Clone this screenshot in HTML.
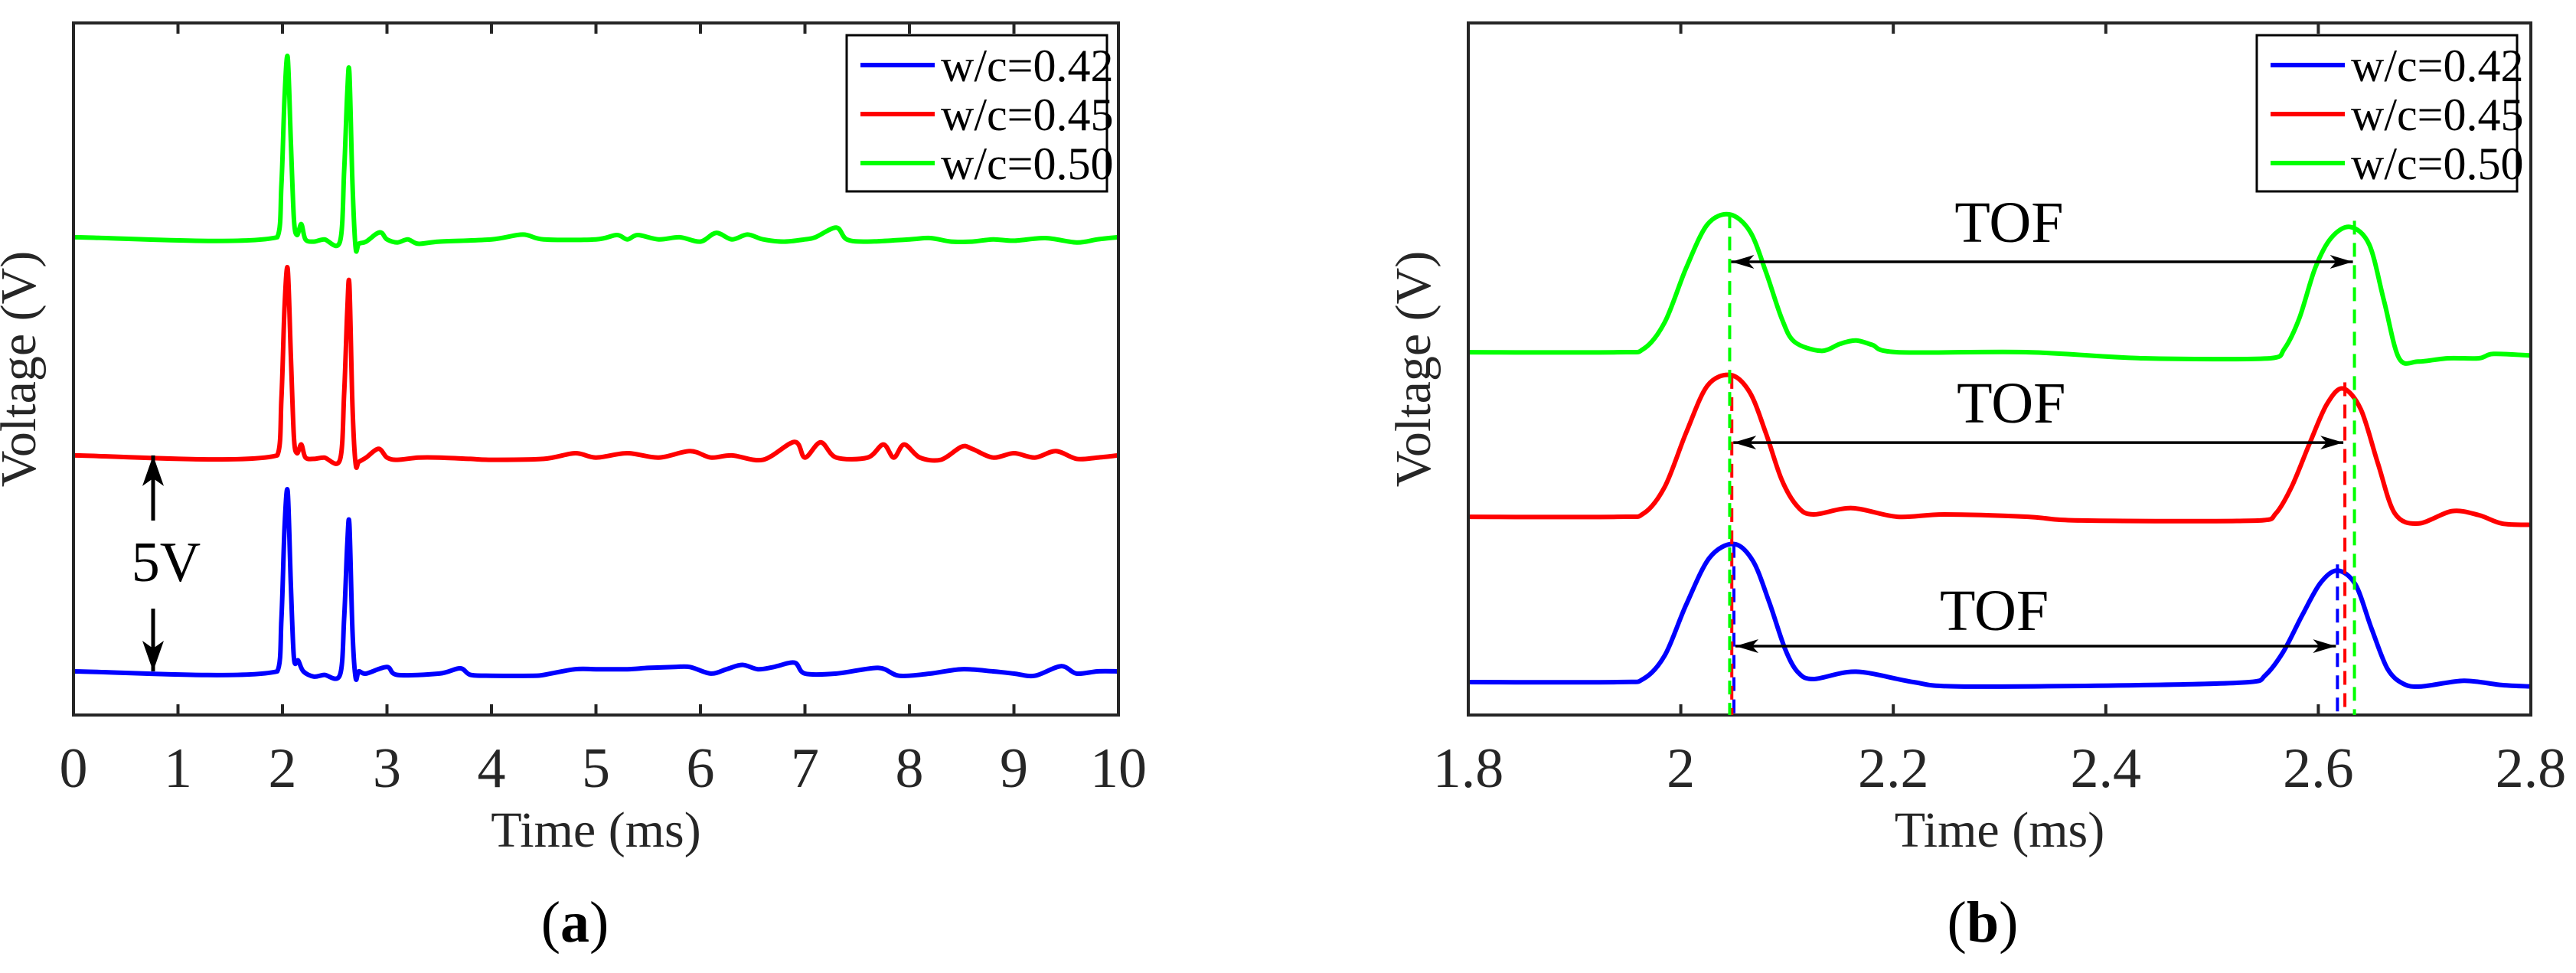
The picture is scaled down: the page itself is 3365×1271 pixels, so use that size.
<!DOCTYPE html>
<html><head><meta charset="utf-8"><style>
html,body{margin:0;padding:0;background:#fff;}
svg{display:block;font-family:"Liberation Serif",serif;}
</style></head><body>
<svg id="fig" width="3365" height="1271" viewBox="0 0 3365 1271" xmlns="http://www.w3.org/2000/svg">
<defs>
<marker id="ah" viewBox="0 0 40 40" refX="40" refY="20" markerWidth="40" markerHeight="40" orient="auto-start-reverse" markerUnits="userSpaceOnUse">
<path d="M0,6 L40,20 L0,34 L10,20 Z" fill="#000"/>
</marker>
<marker id="ahs" viewBox="0 0 30 30" refX="30" refY="15" markerWidth="30" markerHeight="30" orient="auto-start-reverse" markerUnits="userSpaceOnUse">
<path d="M0,6 L30,15 L0,24 L8,15 Z" fill="#000"/>
</marker>
</defs>
</svg>
<script>
// ---------- Panel (a) data: time (ms) and voltage relative to each baseline (V) ----------
const aSeriesNames = ["w/c=0.42","w/c=0.45","w/c=0.50"];
const aOffsets = [1.0, 5.95, 10.95];
const aGreenT = [0,1.95,1.99,2.02,2.05,2.08,2.11,2.14,2.18,2.22,2.3,2.4,2.55,2.59,2.62,2.64,2.67,2.7,2.73,2.8,2.9,2.95,3.0,3.1,3.2,3.3,3.5,4.0,4.3,4.5,5.0,5.2,5.3,5.4,5.6,5.8,6.0,6.15,6.3,6.45,6.6,6.8,7.0,7.1,7.3,7.4,7.6,8.0,8.2,8.4,8.6,8.8,9.0,9.3,9.6,9.8,10];
const aGreenV = [0,0,1.2,3.2,4.13,2.2,0.4,0.05,0.3,-0.05,-0.1,-0.05,-0.1,1.5,3.3,3.77,1.2,-0.25,-0.15,-0.1,0.08,0.1,-0.05,-0.12,-0.05,-0.15,-0.1,-0.05,0.06,-0.05,-0.05,0.05,-0.05,0.05,-0.05,0.0,-0.1,0.1,-0.05,0.06,-0.05,-0.1,-0.05,0.0,0.22,-0.05,-0.1,-0.05,-0.02,-0.1,-0.1,-0.05,-0.08,-0.02,-0.12,-0.05,0.0];
const aRedT = [0,1.95,1.99,2.02,2.05,2.08,2.11,2.14,2.18,2.22,2.3,2.4,2.55,2.59,2.62,2.64,2.67,2.7,2.73,2.8,2.92,3.0,3.1,3.3,3.5,3.8,4.0,4.5,4.8,5.0,5.3,5.6,5.9,6.1,6.3,6.6,6.9,7.0,7.15,7.3,7.6,7.75,7.85,7.95,8.1,8.3,8.5,8.6,8.8,9.0,9.2,9.4,9.6,9.8,10];
const aRedV = [0,0,1.3,3.4,4.28,2.3,0.4,0.05,0.25,-0.05,-0.08,-0.05,-0.1,1.4,3.3,3.91,1.1,-0.2,-0.15,-0.05,0.15,-0.05,-0.1,-0.05,-0.05,-0.08,-0.1,-0.08,0.05,-0.05,0.05,-0.05,0.1,-0.05,0.0,-0.1,0.31,-0.05,0.3,-0.05,-0.05,0.25,-0.05,0.25,-0.05,-0.1,0.2,0.15,-0.05,0.05,-0.05,0.1,-0.08,-0.05,0.0];
const aBlueT = [0,1.95,1.99,2.02,2.05,2.08,2.11,2.15,2.2,2.3,2.4,2.55,2.59,2.62,2.64,2.67,2.7,2.73,2.8,3.0,3.1,3.5,3.7,3.8,4.0,4.4,4.5,4.8,5.0,5.3,5.5,5.75,5.9,6.1,6.25,6.4,6.55,6.7,6.9,7.0,7.3,7.7,7.9,8.2,8.5,8.8,9.0,9.2,9.45,9.6,9.8,10];
const aBlueV = [0,0,1.2,3.3,4.13,2.0,0.3,0.25,0.0,-0.12,-0.08,-0.08,1.2,2.9,3.37,0.9,-0.15,0.0,-0.05,0.1,-0.08,-0.05,0.07,-0.08,-0.1,-0.1,-0.08,0.05,0.05,0.05,0.08,0.1,0.1,-0.05,0.05,0.15,0.05,0.1,0.2,-0.05,-0.05,0.08,-0.1,-0.05,0.05,0.0,-0.05,-0.1,0.12,-0.05,0.0,0.0];
const aTicks = [0,1,2,3,4,5,6,7,8,9,10];

// ---------- Panel (b) data ----------
const bOffsets = [0.98, 5.9, 10.8];
const bGreenT = [1.8,1.94,1.965,1.985,2.005,2.025,2.046,2.065,2.08,2.095,2.107,2.132,2.15,2.165,2.18,2.204,2.327,2.435,2.555,2.568,2.582,2.597,2.612,2.63,2.648,2.662,2.676,2.694,2.722,2.751,2.765,2.8];
const bGreenV = [0,0,0.1,0.9,2.5,3.8,4.1,3.6,2.4,1.0,0.31,0.04,0.25,0.35,0.22,0.0,0.0,-0.18,-0.18,0.1,1.0,2.5,3.4,3.73,3.2,1.5,-0.18,-0.28,-0.18,-0.18,-0.05,-0.1];
const bRedT = [1.8,1.94,1.965,1.985,2.005,2.025,2.047,2.065,2.08,2.095,2.11,2.125,2.161,2.204,2.248,2.327,2.377,2.545,2.56,2.575,2.592,2.608,2.623,2.64,2.656,2.672,2.694,2.726,2.751,2.773,2.8];
const bRedV = [0,0,0.1,0.9,2.5,3.9,4.22,3.7,2.5,1.1,0.3,0.07,0.26,0.0,0.07,0.0,-0.11,-0.11,0.1,0.9,2.2,3.35,3.82,3.2,1.6,0.1,-0.2,0.17,0.05,-0.2,-0.24];
const bBlueT = [1.8,1.94,1.965,1.985,2.005,2.027,2.05,2.068,2.083,2.098,2.11,2.125,2.165,2.219,2.262,2.435,2.535,2.55,2.567,2.585,2.602,2.618,2.635,2.65,2.665,2.68,2.697,2.737,2.773,2.8];
const bBlueV = [0,0,0.1,0.8,2.3,3.7,4.11,3.6,2.4,1.0,0.3,0.09,0.31,0.0,-0.13,-0.09,0.0,0.2,0.9,2.0,2.95,3.32,2.9,1.6,0.4,-0.05,-0.13,0.04,-0.09,-0.13];
const bTicks = [1.8,2.0,2.2,2.4,2.6,2.8];
const bTickLabels = ["1.8","2","2.2","2.4","2.6","2.8"];
const bPeak1 = [2.05, 2.048, 2.046];
const bPeak2 = [2.618, 2.625, 2.634];
const bArrowV = [2.05, 8.11, 13.49];
const bTofV = [2.53, 8.70, 14.08];
const bTofT = [2.295, 2.311, 2.309];
const colors = ["#0000ff","#ff0000","#00ff00"];

const svg = document.getElementById('fig');
const NS = "http://www.w3.org/2000/svg";
function mk(tag, attrs, parent){
  const e = document.createElementNS(NS, tag);
  for (const k in attrs) e.setAttribute(k, attrs[k]);
  (parent||svg).appendChild(e);
  return e;
}
function smoothPath(pts){
  let d = "M"+pts[0][0].toFixed(1)+","+pts[0][1].toFixed(1);
  for (let i=0;i<pts.length-1;i++){
    const p0=pts[Math.max(0,i-1)], p1=pts[i], p2=pts[i+1], p3=pts[Math.min(pts.length-1,i+2)];
    const t=0.16;
    let c1x=p1[0]+(p2[0]-p0[0])*t, c1y=p1[1]+(p2[1]-p0[1])*t;
    let c2x=p2[0]-(p3[0]-p1[0])*t, c2y=p2[1]-(p3[1]-p1[1])*t;
    c1x=Math.min(Math.max(c1x,p1[0]),p2[0]); c2x=Math.min(Math.max(c2x,p1[0]),p2[0]);
    d+=" C"+c1x.toFixed(1)+","+c1y.toFixed(1)+" "+c2x.toFixed(1)+","+c2y.toFixed(1)+" "+p2[0].toFixed(1)+","+p2[1].toFixed(1);
  }
  return d;
}

function panel(cfg){
  const g = mk('g', {});
  
  
  const X = v => cfg.x0 + (v-cfg.xmin)/(cfg.xmax-cfg.xmin)*(cfg.x1-cfg.x0);
  const Y = v => cfg.y1 - (v-cfg.ymin)/(cfg.ymax-cfg.ymin)*(cfg.y1-cfg.y0);
  const clip = mk('clipPath', {id: cfg.name+'-clip'}, g);
  mk('rect', {x:cfg.x0, y:cfg.y0, width:cfg.x1-cfg.x0, height:cfg.y1-cfg.y0}, clip);
  const plot = mk('g', {'clip-path':'url(#'+cfg.name+'-clip)'}, g);
  
  
  for (let s=2; s>=0; s--){
    const T=cfg.ts[s], V=cfg.vs[s];
    const pts = T.map((t,i)=>[X(t), Y(V[i]+cfg.offsets[s])]);
    const p = mk('path', {d: smoothPath(pts), fill:'none', stroke:colors[s], 'stroke-width':6, 'stroke-linejoin':'round'}, plot);
    
    
  }
  const box = mk('rect', {x:cfg.x0, y:cfg.y0, width:cfg.x1-cfg.x0, height:cfg.y1-cfg.y0, fill:'none', stroke:'#262626', 'stroke-width':4}, g);
  
  
  cfg.ticks.forEach((t,i)=>{
    const x = X(t);
    mk('line', {x1:x, x2:x, y1:cfg.y1, y2:cfg.y1-14, stroke:'#262626', 'stroke-width':4}, g);
    mk('line', {x1:x, x2:x, y1:cfg.y0, y2:cfg.y0+14, stroke:'#262626', 'stroke-width':4}, g);
    const tx = mk('text', {x:x, y:cfg.y1+94, 'text-anchor':'middle', 'font-size':74, fill:'#262626'}, g);
    tx.textContent = cfg.tickLabels[i];
    
    
  });
  const xl = mk('text', {x:(cfg.x0+cfg.x1)/2, y:1106, 'text-anchor':'middle', 'font-size':66, fill:'#262626'}, g);
  xl.textContent = 'Time (ms)';
  
  
  const yl = mk('text', {x:0, y:0, 'text-anchor':'middle', 'font-size':66, fill:'#262626', transform:'translate('+(cfg.x0-50)+','+((cfg.y0+cfg.y1)/2)+') rotate(-90)'}, g);
  yl.textContent = 'Voltage (V)';
  
  
  const lg = mk('g', {}, g);
  
  
  mk('rect', {x:cfg.lx, y:46, width:340, height:204, fill:'#fff', stroke:'#000', 'stroke-width':3}, lg);
  for (let s=0;s<3;s++){
    const yy = 85 + s*64;
    const e = mk('g', {}, lg);
    
    
    mk('line', {x1:cfg.lx+18, x2:cfg.lx+115, y1:yy, y2:yy, stroke:colors[s], 'stroke-width':6}, e);
    const t = mk('text', {x:cfg.lx+123, y:yy+21, 'font-size':60, fill:'#000'}, e);
    t.textContent = aSeriesNames[s];
  }
  const cap = mk('text', {x:cfg.capX, y:1230, 'text-anchor':'middle', 'font-size':76, fill:'#000'}, g);
  cap.innerHTML = '(<tspan font-weight="bold">'+cfg.cap+'</tspan>)';
  
  
  return {g, X, Y};
}

const A = panel({name:'panel-a', x0:96, x1:1461, y0:30, y1:934, xmin:0, xmax:10, ymin:0, ymax:15.86,
  ts:[aBlueT,aRedT,aGreenT], vs:[aBlueV,aRedV,aGreenV], offsets:aOffsets,
  ticks:aTicks, tickLabels:aTicks.map(String), lx:1106, capX:751, cap:'a'});
const ann = mk('g', {}, A.g);


mk('line', {x1:200, x2:200, y1:680, y2:A.Y(aOffsets[1]), stroke:'#000', 'stroke-width':5, 'marker-end':'url(#ah)'}, ann);
mk('line', {x1:200, x2:200, y1:795, y2:A.Y(aOffsets[0]), stroke:'#000', 'stroke-width':5, 'marker-end':'url(#ah)'}, ann);
const fv = mk('text', {x:217, y:759, 'text-anchor':'middle', 'font-size':74, fill:'#000'}, ann);
fv.textContent = '5V';

const B = panel({name:'panel-b', x0:1918, x1:3306, y0:30, y1:934, xmin:1.8, xmax:2.8, ymin:0, ymax:20.6,
  ts:[bBlueT,bRedT,bGreenT], vs:[bBlueV,bRedV,bGreenV], offsets:bOffsets,
  ticks:bTicks, tickLabels:bTickLabels, lx:2948, capX:2590, cap:'b'});
const peakAmp1 = [4.11,4.22,4.1], peakAmp2=[3.32,3.82,3.73];
for (let s=0;s<3;s++){
  const gg = mk('g', {}, B.g);
  
  
  mk('line', {x1:B.X(bPeak1[s]), x2:B.X(bPeak1[s]), y1:B.Y(bOffsets[s]+peakAmp1[s]), y2:934, stroke:colors[s], 'stroke-width':4, 'stroke-dasharray':'18,11'}, gg);
  mk('line', {x1:B.X(bPeak2[s]), x2:B.X(bPeak2[s]), y1:B.Y(bOffsets[s]+peakAmp2[s])-8, y2:934, stroke:colors[s], 'stroke-width':4, 'stroke-dasharray':'18,11'}, gg);
  mk('line', {x1:B.X(bPeak1[s])+2, x2:B.X(bPeak2[s])-2, y1:B.Y(bArrowV[s]), y2:B.Y(bArrowV[s]), stroke:'#000', 'stroke-width':3.5, 'marker-start':'url(#ahs)', 'marker-end':'url(#ahs)'}, gg);
  const t = mk('text', {x:B.X(bTofT[s]), y:B.Y(bTofV[s]), 'text-anchor':'middle', 'font-size':76, fill:'#000'}, gg);
  t.textContent = 'TOF';
  
  
}
</script>
</body></html>
